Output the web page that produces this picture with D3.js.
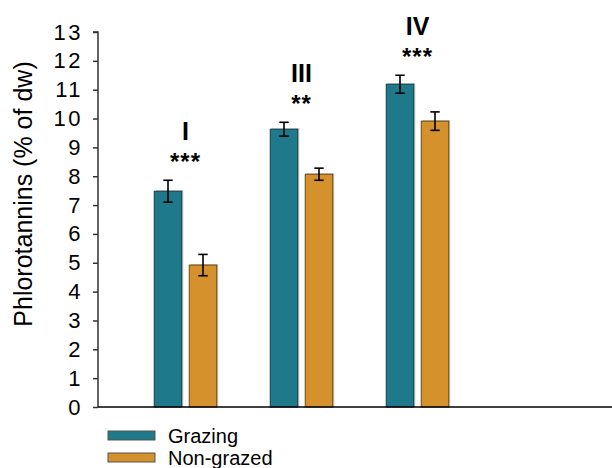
<!DOCTYPE html>
<html>
<head>
<meta charset="utf-8">
<script src="https://cdn.jsdelivr.net/npm/d3@7"></script>
<style>
  body { margin: 0; background: #fff; }
  svg { display: block; font-family: "Liberation Sans", Arial, sans-serif; }
</style>
</head>
<body>
<div id="chart"></div>
<script>
'use strict';

// data
const groups = ['I', 'III', 'IV'];
const stars = ['***', '**', '***'];
const series = ['Grazing', 'Non-grazed'];
const grazing = [7.48, 9.63, 11.19];
const grazingErr = [0.38, 0.24, 0.31];
const nonGrazed = [4.92, 8.07, 9.91];
const nonGrazedErr = [0.37, 0.21, 0.32];
const yTicks = [0, 1, 2, 3, 4, 5, 6, 7, 8, 9, 10, 11, 12, 13];

const colors = { 'Grazing': '#1e7a8a', 'Non-grazed': '#d4912c' };
const strokes = { 'Grazing': '#123f47', 'Non-grazed': '#6a4a16' };

const width = 612, height = 468;
const axisX = 98, axisTop = 32, axisBottom = 407;

const svg = d3.select('#chart').append('svg')
    .attr('width', width)
    .attr('height', height);

const y = d3.scaleLinear().domain([0, 13]).range([axisBottom, axisTop]);
const x = d3.scalePoint().domain(groups).range([185.5, 417.5]);
const xs = d3.scaleBand().domain(series).range([-31.25, 31.25]).paddingInner(0.214);

const rows = [];
groups.forEach((g, i) => {
    rows.push({ group: g, key: 'Grazing', v: grazing[i], e: grazingErr[i] });
    rows.push({ group: g, key: 'Non-grazed', v: nonGrazed[i], e: nonGrazedErr[i] });
});

// y axis
const yAxis = svg.append('g')
    .attr('transform', `translate(${axisX},0)`)
    .call(d3.axisLeft(y).tickValues(yTicks).tickSize(5).tickPadding(10));
yAxis.select('.domain').attr('stroke', '#333').attr('stroke-width', 1.5)
    .attr('d', `M-5,${y(13)}H0V${y(0)}`);
yAxis.selectAll('.tick line').attr('stroke', '#333').attr('stroke-width', 1.5);
yAxis.selectAll('.tick text').attr('font-size', 22).attr('fill', '#000')
    .attr('letter-spacing', 2.5)
    .attr('font-family', '"Liberation Sans", Arial, sans-serif');

// y title
svg.append('text')
    .attr('transform', `translate(32,${194}) rotate(-90)`)
    .attr('text-anchor', 'middle')
    .attr('font-size', 25)
    .text('Phlorotannins (% of dw)');

// bars
const bars = svg.append('g');
bars.selectAll('rect.shadow')
    .data(rows)
    .join('rect')
    .attr('class', 'shadow')
    .attr('x', d => x(d.group) + xs(d.key) + 1.5)
    .attr('y', d => y(d.v) - 1)
    .attr('width', xs.bandwidth())
    .attr('height', d => y(0) - y(d.v) + 1)
    .attr('fill', '#c8c8c8');

bars.selectAll('rect.bar')
    .data(rows)
    .join('rect')
    .attr('class', 'bar')
    .attr('x', d => x(d.group) + xs(d.key))
    .attr('y', d => y(d.v))
    .attr('width', xs.bandwidth())
    .attr('height', d => y(0) - y(d.v))
    .attr('fill', d => colors[d.key])
    .attr('stroke', d => strokes[d.key])
    .attr('stroke-width', 1);

// error bars
const cap = 4.7;
const err = svg.append('g').attr('stroke', '#000').attr('stroke-width', 1.6);
rows.forEach(d => {
    const cx = x(d.group) + xs(d.key) + xs.bandwidth() / 2;
    err.append('line').attr('x1', cx).attr('x2', cx).attr('y1', y(d.v + d.e)).attr('y2', y(d.v - d.e));
    err.append('line').attr('x1', cx - cap).attr('x2', cx + cap).attr('y1', y(d.v + d.e)).attr('y2', y(d.v + d.e));
    err.append('line').attr('x1', cx - cap).attr('x2', cx + cap).attr('y1', y(d.v - d.e)).attr('y2', y(d.v - d.e));
});

// x axis line
svg.append('line')
    .attr('x1', axisX).attr('x2', width)
    .attr('y1', y(0)).attr('y2', y(0))
    .attr('stroke', '#000').attr('stroke-width', 1.5);

// group labels and significance stars
groups.forEach((g, i) => {
    const top = Math.max(grazing[i] + grazingErr[i], nonGrazed[i] + nonGrazedErr[i]);
    const cx = x(g);
    svg.append('text')
        .attr('x', cx).attr('y', y(top) - 10)
        .attr('text-anchor', 'middle')
        .attr('font-size', 24).attr('font-weight', 'bold')
        .attr('letter-spacing', 1)
        .text(stars[i]);
    svg.append('text')
        .attr('x', cx).attr('y', y(top) - 40)
        .attr('text-anchor', 'middle')
        .attr('font-size', 25).attr('font-weight', 'bold')
        .text(g);
});

// legend
const legend = svg.append('g').attr('transform', 'translate(108,431)');
series.forEach((s, i) => {
    const row = legend.append('g').attr('transform', `translate(0,${i * 22})`);
    row.append('rect')
        .attr('width', 47).attr('height', 9)
        .attr('fill', colors[s]).attr('stroke', '#555').attr('stroke-width', 1);
    row.append('text')
        .attr('x', 60).attr('y', 12)
        .attr('font-size', 20)
        .text(s);
});
</script>
</body>
</html>
